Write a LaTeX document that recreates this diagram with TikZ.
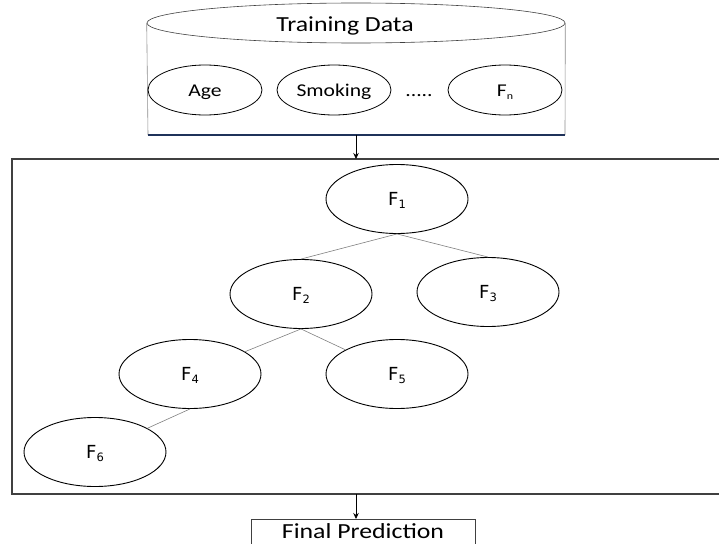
\documentclass[tikz,border=0pt]{standalone}
\usepackage{fontspec}
\setmainfont[FakeStretch=1.2]{Carlito}
\newfontfamily\flabfont{DejaVu Sans}
\usetikzlibrary{shapes.geometric,arrows.meta,positioning}

\newcommand{\Fsub}[1]{F\raisebox{-0.35ex}{\fontsize{11.5}{12}\selectfont #1}}
\newcommand{\Fsubn}[1]{F\raisebox{-0.35ex}{\fontsize{10}{10}\selectfont #1}}

\tikzset{
	feat/.style={ellipse, draw, line width=0.8pt, minimum width=114pt, minimum height=50pt,
		inner sep=0pt, text height=12pt, text depth=0pt, font=\fontsize{18}{20}\selectfont},
	tnode/.style={ellipse, draw, line width=0.9pt, minimum width=142pt, minimum height=69pt,
		inner sep=0pt, text height=13pt, text depth=0pt, font=\flabfont\fontsize{18}{20}\selectfont},
	edge/.style={draw=black!50, line width=0.6pt},
	arr/.style={-{Stealth[length=6pt,width=5.5pt]}, line width=0.8pt},
	frame/.style={draw=black!75, line width=1.2pt},
}

\begin{document}
\begin{tikzpicture}[x=1pt, y=-1pt]
	\useasboundingbox (0,0) rectangle (719,543);
	
	% Datenbank (Zylinder)
	\node [ellipse, draw=black!75, line width=0.6pt, minimum width=418pt, minimum height=40pt, inner sep=0pt] (dbtop) at (356,23) {};
	\node [anchor=base, font=\fontsize{21.5}{24}\selectfont] (dblabel) at (345,32) {Training Data};
	\coordinate (dbbl) at (148,135);
	\coordinate (dbbr) at (565,135);
	\coordinate (dbbot) at (356,135);
	\draw [black!45, line width=0.6pt] (dbtop.west) -- (dbbl);
	\draw [black!45, line width=0.6pt] (dbtop.east) -- (dbbr);
	\draw [draw={rgb,255:red,31;green,50;blue,90}, line width=2.2pt] (dbbl) -- (dbbr);	% Boden
	
	\node [feat] (age) at (205,90) {Age};
	\node [feat] (smoking) at (334,90) {Smoking};
	\node [feat] (fn) at (505,90) {\Fsubn{n}};
	\node [anchor=base, font=\fontsize{18}{20}\selectfont] (dots) at (419,96) {.....};
	
	% Rahmen um den Baum
	\draw [frame] (725,159) -- (12,159) -- (12,494) -- (725,494);
	\coordinate (boxtop) at (356,159);
	\coordinate (boxbot) at (356,494);
	\draw [arr] (dbbot) -- (boxtop);
	
	% Baum
	\node [tnode] (f1) at (397,199) {\Fsub{1}};
	\node [tnode] (f2) at (301,294) {\Fsub{2}};
	\node [tnode] (f3) at (488,292) {\Fsub{3}};
	\node [tnode] (f4) at (190,374) {\Fsub{4}};
	\node [tnode] (f5) at (397,374) {\Fsub{5}};
	\node [tnode] (f6) at (95,452) {\Fsub{6}};
	
	\draw [edge] (f1.south) -- (f2.north);
	\draw [edge] (f1.south) -- (f3.north);
	\draw [edge] (f2.south) -- (f4);
	\draw [edge] (f2.south) -- (f5);
	\draw [edge] (f4.south) -- (f6);
	
	% Ergebnis
	\node [draw=black!75, line width=1pt, anchor=north, minimum width=224pt, inner ysep=5pt,
		text height=14pt, text depth=24pt, font=\fontsize{21.5}{24}\selectfont] (pred) at (363,519) {Final Prediction};
	\draw [arr] (boxbot) -- (pred.north -| boxbot);
\end{tikzpicture}
\end{document}
